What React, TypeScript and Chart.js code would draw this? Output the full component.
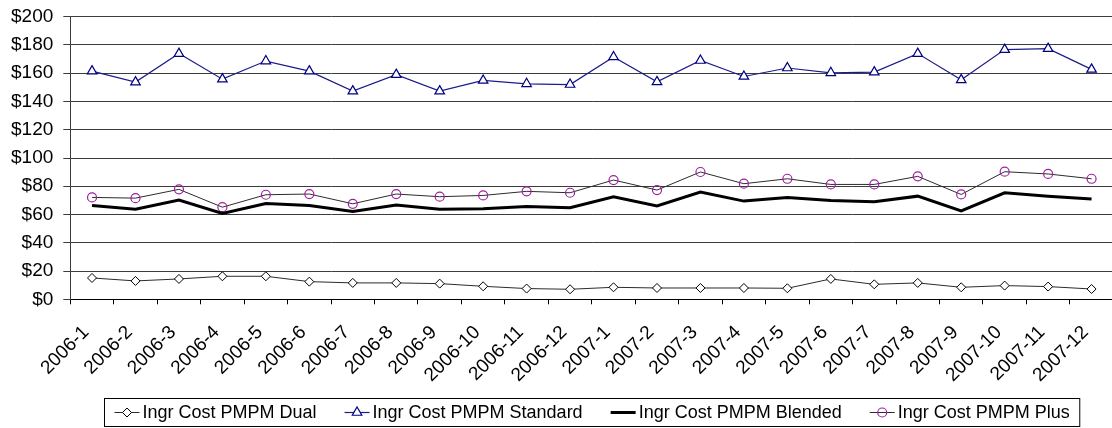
import React, { useEffect, useRef } from 'react';
import { Chart, registerables } from 'chart.js';
import { drawPoint } from 'chart.js/helpers';

Chart.register(...registerables);

const months = [
  '2006-1', '2006-2', '2006-3', '2006-4', '2006-5', '2006-6',
  '2006-7', '2006-8', '2006-9', '2006-10', '2006-11', '2006-12',
  '2007-1', '2007-2', '2007-3', '2007-4', '2007-5', '2007-6',
  '2007-7', '2007-8', '2007-9', '2007-10', '2007-11', '2007-12',
];

const dual = [15.1, 13.0, 14.4, 16.3, 16.3, 12.5, 11.6, 11.6, 11.1, 9.2, 7.6, 7.1, 8.5, 8, 8, 8, 7.8, 14.4, 10.6, 11.6, 8.5, 9.7, 9, 7.3];
const standard = [161.5, 153.7, 173.9, 155.8, 168.6, 161.5, 147.3, 159, 147.3, 154.9, 152.5, 152, 171.5, 153.9, 169, 157.7, 163.7, 160.3, 160.8, 173.9, 155.3, 176.7, 177.4, 162.7];
const blended = [66.4, 63.8, 70.2, 60.8, 67.8, 66.4, 62.2, 66.7, 63.8, 64.1, 65.7, 64.8, 72.6, 66, 75.9, 69.5, 72.1, 70, 69, 73, 62.6, 75.4, 73, 70.9];
const plus = [72.1, 71.6, 77.8, 65.2, 74.0, 74.5, 67.6, 74.5, 72.6, 73.5, 76.4, 75.4, 84.4, 77.3, 90.1, 81.8, 85.3, 81.3, 81.3, 87, 74.2, 90.3, 88.7, 85.3];

const FONT = '"Liberation Sans", Arial, sans-serif';

// boxed legend below the axis, like the spreadsheet one (line sample + marker)
const boxLegend = {
  id: 'boxLegend',
  afterDraw(chart: any) {
    const ctx = chart.ctx as CanvasRenderingContext2D;
    const sets = chart.data.datasets;
    ctx.save();
    ctx.font = `18px ${FONT}`;
    const sample = 25, gapText = 3, gapItem = 28, pad = 10;
    const widths = sets.map((d: any) => ctx.measureText(d.label).width);
    const inner = widths.reduce((a: number, w: number) => a + w, 0) + sets.length * (sample + gapText) + (sets.length - 1) * gapItem;
    const area = chart.chartArea;
    const left = Math.round((area.left + area.right) / 2 - inner / 2 - pad) + 0.5;
    const top = 398.5, h = 28;
    ctx.strokeStyle = '#000';
    ctx.lineWidth = 1;
    ctx.strokeRect(left, top, inner + 2 * pad, h);
    const cy = top + h / 2;
    let x = left + pad;
    sets.forEach((d: any, i: number) => {
      ctx.beginPath();
      ctx.strokeStyle = d.borderColor;
      ctx.lineWidth = d.borderWidth;
      ctx.moveTo(x, cy);
      ctx.lineTo(x + sample, cy);
      ctx.stroke();
      if (d.pointStyle && d.pointRadius > 0) {
        ctx.fillStyle = d.pointBackgroundColor;
        ctx.strokeStyle = d.pointBorderColor;
        ctx.lineWidth = d.pointBorderWidth;
        drawPoint(ctx, { pointStyle: d.pointStyle, rotation: 0, borderWidth: d.pointBorderWidth, radius: d.pointRadius }, x + sample / 2, cy);
      }
      x += sample + gapText;
      ctx.fillStyle = '#000';
      ctx.textBaseline = 'middle';
      ctx.textAlign = 'left';
      ctx.fillText(d.label, x, cy + 1);
      x += widths[i] + gapItem;
    });
    ctx.restore();
  },
};

const App: React.FC = () => {
  const canvasRef = useRef<HTMLCanvasElement | null>(null);

  useEffect(() => {
    document.body.style.margin = '0';
    if (!canvasRef.current) return;
    const ctx = canvasRef.current.getContext('2d');
    if (!ctx) return;

    const chart = new Chart(ctx, {
      type: 'line',
      data: {
        labels: months,
        datasets: [
          {
            label: 'Ingr Cost PMPM Dual',
            data: dual,
            borderColor: '#2b2b2b',
            borderWidth: 1,
            pointStyle: 'rectRot',
            pointRadius: 4.5,
            pointBackgroundColor: '#fff',
            pointBorderColor: '#000',
            pointBorderWidth: 1,
          },
          {
            label: 'Ingr Cost PMPM Standard',
            data: standard,
            borderColor: '#1c1c8c',
            borderWidth: 1.2,
            pointStyle: 'triangle',
            pointRadius: 5.5,
            pointBackgroundColor: '#fff',
            pointBorderColor: '#000080',
            pointBorderWidth: 1.2,
          },
          {
            label: 'Ingr Cost PMPM Blended',
            data: blended,
            borderColor: '#000',
            borderWidth: 3,
            pointStyle: false as any,
            pointRadius: 0,
          },
          {
            label: 'Ingr Cost PMPM Plus',
            data: plus,
            borderColor: '#2b2b2b',
            borderWidth: 1,
            pointStyle: 'circle',
            pointRadius: 4.5,
            pointBackgroundColor: 'rgba(255,255,255,0)',
            pointBorderColor: '#a020a0',
            pointBorderWidth: 1.2,
          },
        ],
      },
      options: {
        responsive: false,
        animation: false,
        devicePixelRatio: 1,
        layout: { padding: { top: 16.7, right: 0, left: 0, bottom: 0 } },
        elements: { line: { tension: 0 } },
        plugins: {
          legend: { display: false },
          tooltip: { enabled: false },
        },
        scales: {
          x: {
            offset: true,
            afterFit: (s: any) => {
              s.height = 428 - 299.3;
              s.paddingLeft = 0;
              s.paddingRight = 0;
            },
            grid: {
              offset: true,
              drawOnChartArea: false,
              tickLength: 5,
              color: '#000',
            },
            border: { color: '#000', width: 1 },
            ticks: {
              minRotation: 45,
              maxRotation: 45,
              autoSkip: false,
              padding: 17,
              labelOffset: -6,
              color: '#000',
              font: { family: FONT, size: 19 },
            },
          },
          y: {
            min: 0,
            max: 200,
            afterFit: (s: any) => {
              s.width = 70.3;
              s.paddingTop = 0;
              s.paddingBottom = 0;
            },
            grid: { color: '#3c3c3c', tickLength: 7 },
            border: { color: '#3c3c3c', width: 1 },
            ticks: {
              stepSize: 20,
              padding: 10,
              color: '#000',
              font: { family: FONT, size: 19 },
              callback: (v: any) => '$' + v,
            },
          },
        },
      },
      plugins: [boxLegend],
    });

    return () => {
      chart.destroy();
    };
  }, []);

  return (
    <div style={{ width: 1112, height: 428, overflow: 'hidden' }}>
      <canvas ref={canvasRef} width={1120} height={428} />
    </div>
  );
};

export default App;
